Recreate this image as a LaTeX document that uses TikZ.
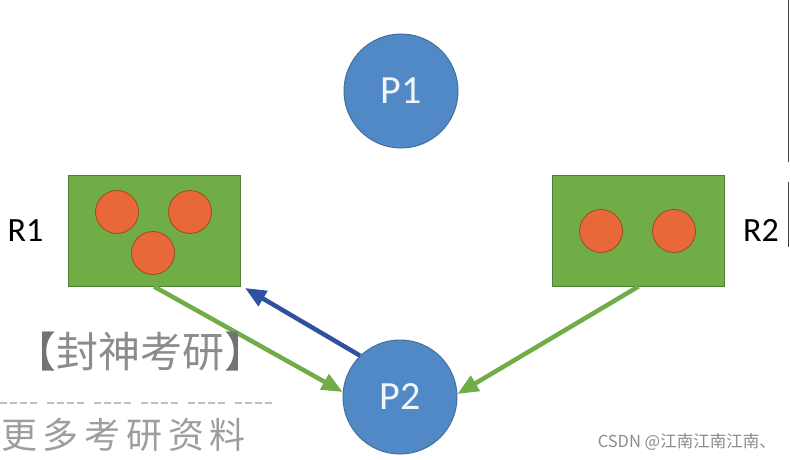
\documentclass[tikz,border=0pt]{standalone}
\usepackage{fontspec}
\setmainfont{Carlito}
\newfontfamily\cjkfont{Noto Sans CJK SC}
\newfontfamily\cjkwide{Noto Sans CJK SC}[LetterSpace=16]
\usepackage{tikz}
\usetikzlibrary{positioning,arrows.meta}
\definecolor{ProcBlue}{HTML}{5089C6}
\definecolor{ProcEdge}{HTML}{41719C}
\definecolor{ResGreen}{HTML}{70AD47}
\definecolor{ResEdge}{HTML}{4E7F34}
\definecolor{TokenOrange}{HTML}{E9683A}
\definecolor{TokenEdge}{HTML}{9C4A22}
\definecolor{ReqBlue}{HTML}{2F52A0}
\definecolor{MarkGray}{HTML}{8C8C8C}
\tikzset{
  proc/.style={circle, fill=ProcBlue, draw=ProcEdge, line width=1pt,
    minimum size=114pt, inner sep=0pt, text=white!92!ProcBlue, font=\fontsize{40}{40}\selectfont},
  res/.style={rectangle, fill=ResGreen, draw=ResEdge, line width=1pt,
    minimum width=172pt, minimum height=111pt, inner sep=0pt},
  token/.style={circle, fill=TokenOrange, draw=TokenEdge, line width=0.8pt,
    minimum size=43pt, inner sep=0pt},
  reslabel/.style={inner sep=0pt, font=\fontsize{34}{34}\selectfont},
  assign/.style={ResGreen, line width=4.5pt, -{Triangle[length=21pt,width=17pt]}},
  request/.style={ReqBlue, line width=4.5pt, -{Triangle[length=21pt,width=17pt]}}
}

\begin{document}
\begin{tikzpicture}[x=1pt, y=-1pt]
  \useasboundingbox (0,0) rectangle (790,460);
  \fill[white] (0,0) rectangle (790,460);

  % processes and resources
  \node[proc] (P1) at (401,91) {P1};
  \node[proc] (P2) at (400,397) {P2};
  \node[res] (R1) at (154,230.5) {};
  \node[res] (R2) at (638.5,230.5) {};
  \node[reslabel, left=24pt of R1] (R1lab) {R1};
  \node[reslabel, right=18pt of R2] (R2lab) {R2};

  % resource instances
  \node[token] (R1a) at (117,212) {};
  \node[token] (R1b) at (190,212) {};
  \node[token] (R1c) at (153,253) {};
  \node[token] (R2a) at (601,231) {};
  \node[token] (R2b) at (674,231) {};

  % edges
  \draw[assign] (R1.south) -- (P2.175);
  \draw[assign] (R2.south) -- (P2.3);
  \coordinate (R1req) at (245,288);
  \draw[request] (P2.134) -- (R1req);

  % screenshot edge
  \draw[black!75, line width=1.5pt] (788.5,0) -- (788.5,162) (788.5,182) -- (788.5,247);

  % watermarks
  \node[anchor=west, inner sep=0pt, font=\cjkfont\fontsize{42}{42}\selectfont] (wm1) at (14,352)
    {\textcolor{black!55}{【}\textcolor{MarkGray}{封神考研}\textcolor{black!55}{】}};
  \draw[black!25, line width=1.8pt,
    dash pattern=on 7pt off 3pt on 7pt off 3pt on 7pt off 3pt on 7pt off 10pt] (0,403) -- (272,403);
  \node[anchor=west, inner sep=0pt, text=MarkGray!85, font=\cjkwide\fontsize{36}{36}\selectfont] (wm2) at (1,435)
    {更多考研资料};
  \node[anchor=east, inner sep=0pt, text=black!45, font=\cjkfont\fontsize{16.5}{16.5}\selectfont] (csdn) at (776,442)
    {CSDN @江南江南江南、};
\end{tikzpicture}
\end{document}
